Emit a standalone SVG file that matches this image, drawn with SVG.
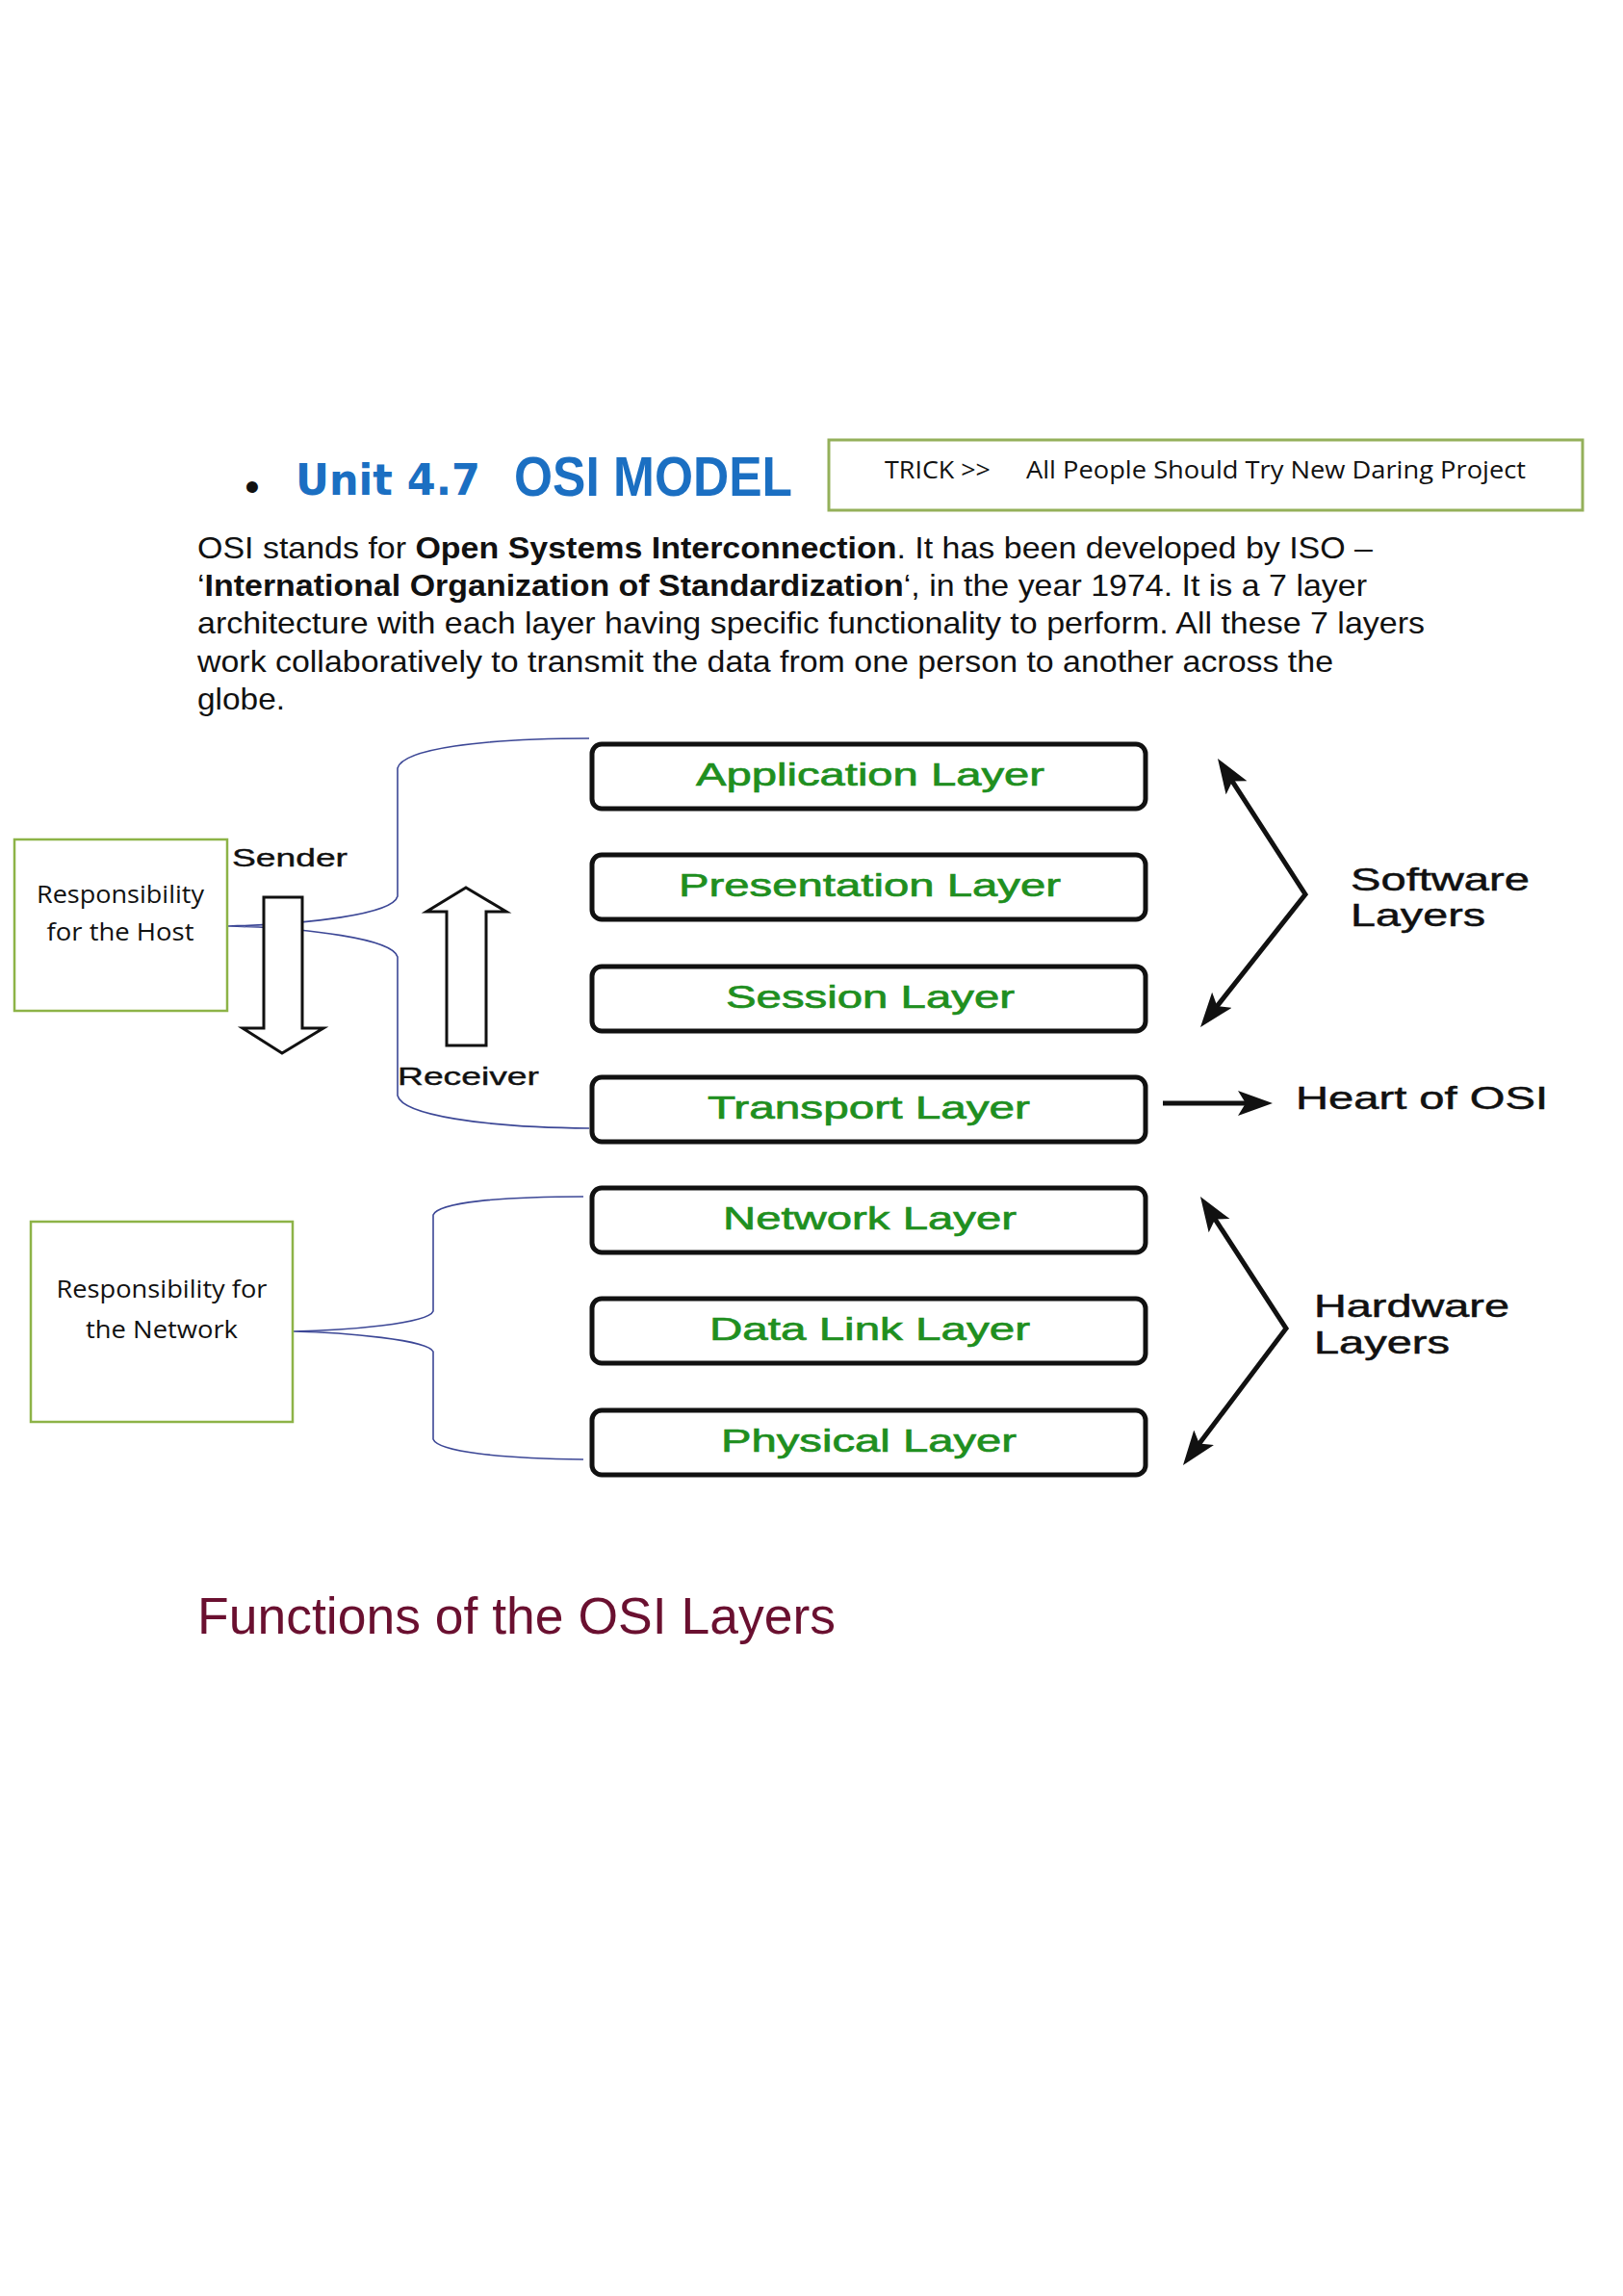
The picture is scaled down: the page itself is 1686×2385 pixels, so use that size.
<svg xmlns="http://www.w3.org/2000/svg" width="1686" height="2385" viewBox="0 0 1686 2385">
<style>
.para{font-family:"Liberation Sans",Arial,sans-serif;font-size:32px;fill:#111}
.b{font-weight:bold}
.calib{font-family:"Open Sans","Noto Sans",sans-serif;font-size:25px;fill:#111}
.layer{fill:#fff;stroke:#111;stroke-width:5}
.lt{font-family:"Liberation Sans",Arial,sans-serif;font-size:34px;fill:#1f8f1f;stroke:#1f8f1f;stroke-width:0.7}
.side{font-family:"Liberation Sans",Arial,sans-serif;font-size:33px;fill:#111;stroke:#111;stroke-width:0.5}
.sr{font-family:"Liberation Sans",Arial,sans-serif;font-size:26px;fill:#111;stroke:#111;stroke-width:0.4}
.gbox{fill:#fff;stroke:#8db347;stroke-width:2.5}
.brace{fill:none;stroke:#3c4796;stroke-width:1.6}
.arr{fill:none;stroke:#111;stroke-width:5}
.blk{fill:#fff;stroke:#111;stroke-width:3;stroke-linejoin:miter}
</style>
<defs>
<marker id="ah" markerUnits="userSpaceOnUse" markerWidth="38" markerHeight="28" refX="22" refY="13" orient="auto-start-reverse" viewBox="0 0 38 28">
<path d="M0,0 L36,13 L0,26 L8,13 z" fill="#111"/>
</marker>
</defs>
<rect width="1686" height="2385" fill="#fff"/>

<g id="title">
<text x="262" y="521" font-family="Liberation Sans,Arial,sans-serif" font-size="44" text-anchor="middle" fill="#111">•</text>
<text x="307" y="514" font-family="DejaVu Sans,sans-serif" font-weight="bold" font-size="45" fill="#1b6fc2" textLength="192" lengthAdjust="spacingAndGlyphs">Unit 4.7</text>
<text x="534" y="515" font-family="Liberation Sans,Arial,sans-serif" font-weight="bold" font-size="57" fill="#1b6fc2" textLength="289" lengthAdjust="spacingAndGlyphs">OSI MODEL</text>
</g>

<g id="trick">
<rect x="861" y="457" width="783" height="73" fill="#fff" stroke="#94b05a" stroke-width="3"/>
<text class="calib" x="919" y="497" font-size="27" textLength="110" lengthAdjust="spacingAndGlyphs">TRICK &gt;&gt;</text>
<text class="calib" x="1066" y="497" font-size="27" textLength="519" lengthAdjust="spacingAndGlyphs">All People Should Try New Daring Project</text>
</g>

<g id="paragraph">
<text class="para" x="205" y="580" textLength="1221" lengthAdjust="spacingAndGlyphs">OSI stands for <tspan class="b">Open Systems Interconnection</tspan>. It has been developed by ISO –</text>
<text class="para" x="205" y="619" textLength="1215" lengthAdjust="spacingAndGlyphs">‘<tspan class="b">International Organization of Standardization</tspan>‘, in the year 1974. It is a 7 layer</text>
<text class="para" x="205" y="658" textLength="1275" lengthAdjust="spacingAndGlyphs">architecture with each layer having specific functionality to perform. All these 7 layers</text>
<text class="para" x="205" y="698" textLength="1180" lengthAdjust="spacingAndGlyphs">work collaboratively to transmit the data from one person to another across the</text>
<text class="para" x="205" y="737" textLength="91" lengthAdjust="spacingAndGlyphs">globe.</text>
</g>

<g id="connectors">
<path class="brace" d="M612,767 C500,767 418,778 413,798 L413,931 C408,950 320,960 237,962 C320,964 408,975 413,994 L413,1138 C418,1158 500,1171 612,1172"/>
<path class="brace" d="M606,1243 C520,1243 455,1249 450,1262 L450,1362 C445,1375 360,1382 304,1383 C360,1384 445,1392 450,1404 L450,1495 C455,1508 520,1515 606,1516"/>
<path class="arr" d="M1272.6,799.8 L1356,929 L1255.7,1056" marker-start="url(#ah)" marker-end="url(#ah)"/>
<path class="arr" d="M1254.6,1254.7 L1336,1380 L1237.4,1510.8" marker-start="url(#ah)" marker-end="url(#ah)"/>
<path class="arr" d="M1208,1146 L1308,1146" marker-end="url(#ah)"/>
</g>

<g id="host">
<rect class="gbox" x="15" y="872" width="221" height="178"/>
<text class="calib" x="125" y="938" text-anchor="middle" textLength="174" lengthAdjust="spacingAndGlyphs">Responsibility</text>
<text class="calib" x="125" y="977" text-anchor="middle" textLength="153" lengthAdjust="spacingAndGlyphs">for the Host</text>
</g>

<g id="network-resp">
<rect class="gbox" x="32" y="1269" width="272" height="208"/>
<text class="calib" x="168" y="1348" text-anchor="middle" textLength="219" lengthAdjust="spacingAndGlyphs">Responsibility for</text>
<text class="calib" x="168" y="1390" text-anchor="middle" textLength="158" lengthAdjust="spacingAndGlyphs">the Network</text>
</g>

<g id="sender">
<polygon class="blk" points="274,932 314,932 314,1068 336,1068 293,1094 252,1068 274,1068"/>
<text class="sr" x="241" y="900" textLength="120" lengthAdjust="spacingAndGlyphs">Sender</text>
</g>

<g id="receiver">
<polygon class="blk" points="464,1086 505,1086 505,947 526,947 484,922 443,947 464,947"/>
<text class="sr" x="413" y="1127" textLength="147" lengthAdjust="spacingAndGlyphs">Receiver</text>
</g>

<g id="application">
<rect class="layer" x="615" y="773" width="575" height="67" rx="10"/>
<text class="lt" x="723" y="816" textLength="362" lengthAdjust="spacingAndGlyphs">Application Layer</text>
</g>
<g id="presentation">
<rect class="layer" x="615" y="888" width="575" height="67" rx="10"/>
<text class="lt" x="705" y="931" textLength="397" lengthAdjust="spacingAndGlyphs">Presentation Layer</text>
</g>
<g id="session">
<rect class="layer" x="615" y="1004" width="575" height="67" rx="10"/>
<text class="lt" x="754" y="1047" textLength="300" lengthAdjust="spacingAndGlyphs">Session Layer</text>
</g>
<g id="transport">
<rect class="layer" x="615" y="1119" width="575" height="67" rx="10"/>
<text class="lt" x="735" y="1162" textLength="335" lengthAdjust="spacingAndGlyphs">Transport Layer</text>
</g>
<g id="network">
<rect class="layer" x="615" y="1234" width="575" height="67" rx="10"/>
<text class="lt" x="751" y="1277" textLength="305" lengthAdjust="spacingAndGlyphs">Network Layer</text>
</g>
<g id="datalink">
<rect class="layer" x="615" y="1349" width="575" height="67" rx="10"/>
<text class="lt" x="737" y="1392" textLength="333" lengthAdjust="spacingAndGlyphs">Data Link Layer</text>
</g>
<g id="physical">
<rect class="layer" x="615" y="1465" width="575" height="67" rx="10"/>
<text class="lt" x="749" y="1508" textLength="307" lengthAdjust="spacingAndGlyphs">Physical Layer</text>
</g>

<g id="software-layers">
<text class="side" x="1403" y="925" textLength="186" lengthAdjust="spacingAndGlyphs">Software</text>
<text class="side" x="1403" y="962" textLength="140" lengthAdjust="spacingAndGlyphs">Layers</text>
</g>
<g id="heart">
<text class="side" x="1346" y="1152" textLength="262" lengthAdjust="spacingAndGlyphs">Heart of OSI</text>
</g>
<g id="hardware-layers">
<text class="side" x="1365" y="1368" textLength="203" lengthAdjust="spacingAndGlyphs">Hardware</text>
<text class="side" x="1365" y="1406" textLength="141" lengthAdjust="spacingAndGlyphs">Layers</text>
</g>

<g id="functions-heading">
<text x="205" y="1697" font-family="Liberation Sans,Arial,sans-serif" font-size="53" fill="#6a1030" textLength="663" lengthAdjust="spacingAndGlyphs">Functions of the OSI Layers</text>
</g>
</svg>
